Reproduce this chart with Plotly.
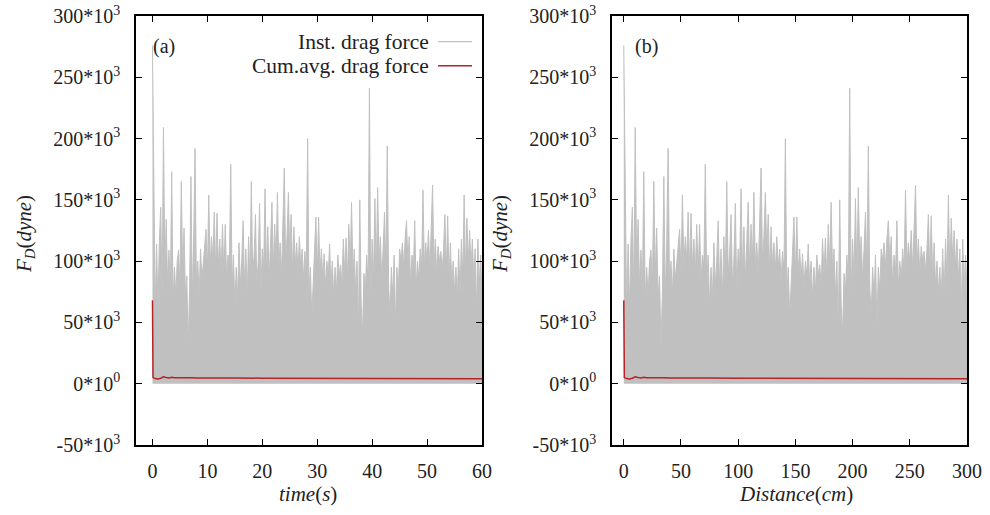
import plotly.graph_objects as go

# ---------------- data ----------------
# instantaneous drag force, in units of 10^3 dyne, sampled every 0.25 s from t = 0 to 60 s
inst_force_k = [
    276, 165, 57, 114,   62, 116, 144, 70,   209, 95, 134, 80,   109, 75, 173, 68,
    95, 72, 100, 109,    80, 165, 90, 127,   70, 88, 30, 75,     169, 70, 115, 192,
    80, 100, 72, 110,    85, 98, 111, 126,   90, 154, 95, 120,   100, 140, 92, 139,
    95, 118, 90, 130,    88, 130, 85, 105,   95, 179, 80, 105,   62, 95, 70, 115,
    80, 100, 133, 78,    110, 70, 120, 85,   165, 90, 105, 138,  80, 100, 147, 75,
    110, 95, 159, 90,    128, 85, 115, 148,  92, 130, 100, 156,  95, 115, 88, 125,
    176, 100, 120, 156,  105, 138, 90, 128,  97, 115, 92, 120,   95, 110, 85, 108,
    90, 200, 72, 95,     55, 80, 105, 136,   88, 136, 90, 110,   85, 106, 78, 100,
    88, 114, 80, 100,    70, 95, 75, 105,    88, 97, 80, 118,    90, 119, 85, 130,
    95, 148, 90, 110,    72, 100, 41, 150,   65, 40, 90, 75,     105, 80, 241, 70,
    118, 85, 151, 90,    160, 100, 120, 85,  110, 140, 90, 194,  80, 55, 95, 70,
    105, 46, 95, 75,     110, 100, 115, 95,  118, 133, 100, 120, 80, 105, 90, 133,
    78, 100, 85, 110,    92, 158, 95, 115,   100, 125, 92, 120,  162, 95, 118, 90,
    112, 100, 108, 92,   110, 138, 90, 137,  85, 115, 80, 100,   75, 95, 70, 110,
    72, 118, 85, 154,    90, 135, 100, 125,  95, 118, 85, 110,   60, 118, 80, 105,
    75,
]
sample_step_s = 0.25
inst_time = [i * sample_step_s for i in range(len(inst_force_k))]

# cumulative average drag force (10^3 dyne)
cum_time = [0, 0.1, 0.5, 1.0, 1.5, 2.0, 2.5, 3.0, 3.5, 4.0, 5.0, 6.0, 7.0, 8.0, 10, 12, 15,
            20, 25, 30, 35, 40, 45, 50, 55, 60]
cum_force_k = [68, 5.0, 4.2, 3.8, 4.5, 5.6, 5.0, 4.6, 5.2, 4.8, 4.9, 4.6, 4.9, 4.7, 4.8, 4.6,
               4.7, 4.5, 4.5, 4.3, 4.3, 4.2, 4.1, 4.1, 4.0, 4.0]

speed_cm_per_s = 5  # distance axis = time * towing speed
inst_dist = [t * speed_cm_per_s for t in inst_time]
cum_dist = [t * speed_cm_per_s for t in cum_time]

y_ticks = [-50000, 0, 50000, 100000, 150000, 200000, 250000, 300000]
y_tick_text = ["-50*10<sup>3</sup>", "0*10<sup>0</sup>", "50*10<sup>3</sup>", "100*10<sup>3</sup>",
               "150*10<sup>3</sup>", "200*10<sup>3</sup>", "250*10<sup>3</sup>", "300*10<sup>3</sup>"]
x1_ticks = [0, 10, 20, 30, 40, 50, 60]
x2_ticks = [0, 50, 100, 150, 200, 250, 300]

legend_labels = ["Inst. drag force", "Cum.avg. drag force"]

GRAY = "#c0c0c0"
RED = "#b4232a"
FONT = "Liberation Serif, DejaVu Serif, serif"

inst_f = [v * 1000 for v in inst_force_k]
cum_f = [v * 1000 for v in cum_force_k]

fig = go.Figure()
for xa, ya, xi, xc in [("x", "y", inst_time, cum_time), ("x2", "y2", inst_dist, cum_dist)]:
    fig.add_trace(go.Scatter(x=xi, y=inst_f, xaxis=xa, yaxis=ya, mode="lines",
                             line=dict(color=GRAY, width=1), fill="tozeroy",
                             fillcolor=GRAY, name=legend_labels[0], showlegend=False))
    fig.add_trace(go.Scatter(x=xc, y=cum_f, xaxis=xa, yaxis=ya, mode="lines",
                             line=dict(color=RED, width=1.5), name=legend_labels[1],
                             showlegend=False))

W, H = 990, 515
yd = [1 - 445 / H, 1 - 16 / H]
axis_common = dict(showline=True, linecolor="black", linewidth=1.5, mirror="ticks",
                   ticks="inside", ticklen=6, tickwidth=1, tickcolor="black",
                   showgrid=False, zeroline=False, automargin=False,
                   tickfont=dict(family=FONT, size=20, color="#222"))

fig.update_layout(
    width=W, height=H, margin=dict(l=0, r=0, t=0, b=0, autoexpand=False),
    paper_bgcolor="white", plot_bgcolor="white", showlegend=False,
    font=dict(family=FONT, size=20, color="#222"),
    xaxis=dict(domain=[136 / W, 482 / W], range=[-3, 60], tickvals=x1_ticks,
               anchor="y", ticklabelstandoff=7, **axis_common),
    yaxis=dict(domain=yd, range=[-50000, 300000], tickvals=y_ticks, ticktext=y_tick_text,
               anchor="x", ticklabelstandoff=10, **axis_common),
    xaxis2=dict(domain=[612 / W, 967 / W], range=[-10.3, 300], tickvals=x2_ticks,
                anchor="y2", ticklabelstandoff=7, **axis_common),
    yaxis2=dict(domain=yd, range=[-50000, 300000], tickvals=y_ticks, ticktext=y_tick_text,
                anchor="x2", ticklabelstandoff=10, **axis_common),
)

lab_font = dict(family=FONT, size=20, color="#222")
leg_font = dict(family=FONT, size=21.5, color="#222")
title_font = dict(family=FONT, size=21, color="#222")
annotations = [
    dict(text="(a)", x=151 / W, y=1 - 46.7 / H, xanchor="left", yanchor="middle", font=lab_font),
    dict(text="(b)", x=633 / W, y=1 - 46.7 / H, xanchor="left", yanchor="middle", font=lab_font),
    dict(text=legend_labels[0], x=431 / W, y=1 - 41.7 / H, xanchor="right", yanchor="middle",
         font=leg_font),
    dict(text=legend_labels[1], x=431 / W, y=1 - 65.7 / H, xanchor="right", yanchor="middle",
         font=leg_font),
    dict(text="<i>F</i><sub><i>D</i></sub>(<i>dyne</i>)", x=25 / W, y=1 - 234 / H,
         textangle=-90, xanchor="center", yanchor="middle", font=title_font),
    dict(text="<i>F</i><sub><i>D</i></sub>(<i>dyne</i>)", x=501 / W, y=1 - 234 / H,
         textangle=-90, xanchor="center", yanchor="middle", font=title_font),
    dict(text="<i>time</i>(<i>s</i>)", x=308 / W, y=1 - 494 / H, xanchor="center",
         yanchor="middle", font=title_font),
    dict(text="<i>Distance</i>(<i>cm</i>)", x=796 / W, y=1 - 494 / H, xanchor="center",
         yanchor="middle", font=title_font),
]
for a in annotations:
    fig.add_annotation(xref="paper", yref="paper", showarrow=False, **a)

fig.add_shape(type="line", xref="paper", yref="paper", x0=438 / W, x1=472 / W,
              y0=1 - 41.7 / H, y1=1 - 41.7 / H, line=dict(color=GRAY, width=1.2))
fig.add_shape(type="line", xref="paper", yref="paper", x0=438 / W, x1=472 / W,
              y0=1 - 65.7 / H, y1=1 - 65.7 / H, line=dict(color=RED, width=1.5))

fig.write_html("out.html")
